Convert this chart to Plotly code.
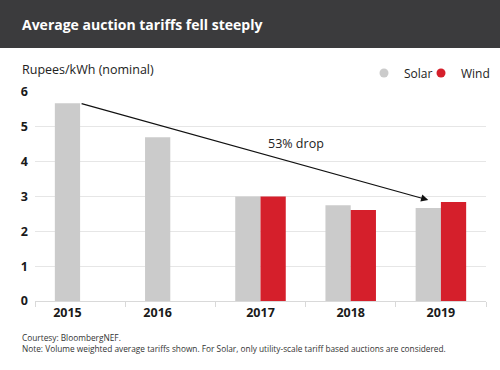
import plotly.graph_objects as go

years = [2015, 2016, 2017, 2018, 2019]
solar = [5.68, 4.70, 3.00, 2.75, 2.67]
wind = [None, None, 3.00, 2.61, 2.84]
y_ticks = [0, 1, 2, 3, 4, 5, 6]

SOLAR_C = "#cbcbcb"
WIND_C = "#d51f2b"
FONT = "Open Sans"
BW = 0.28

# label under solar bar alone when there's no wind value
label_pos = [y - BW / 2 if w is None else y for y, w in zip(years, wind)]
bounds = [y - 0.5 for y in years] + [years[-1] + 0.5]

fig = go.Figure()
fig.add_trace(go.Bar(x=years, y=solar, width=BW, offset=-BW, marker_color=SOLAR_C,
                     marker_line_width=0, name="Solar", showlegend=False))
fig.add_trace(go.Bar(x=years, y=wind, width=BW, offset=0, marker_color=WIND_C,
                     marker_line_width=0, name="Wind", showlegend=False))
# legend entries with circle symbols
fig.add_trace(go.Scatter(x=[None], y=[None], mode="markers", name="Solar", legend="legend",
                         marker=dict(color=SOLAR_C, size=9, symbol="circle")))
fig.add_trace(go.Scatter(x=[None], y=[None], mode="markers", name="Wind", legend="legend2",
                         marker=dict(color=WIND_C, size=9, symbol="circle")))
# invisible trace for tick marks axis
fig.add_trace(go.Scatter(x=[years[0]], y=[0], xaxis="x2", mode="markers",
                         marker=dict(opacity=0), showlegend=False, hoverinfo="skip"))

xr = [years[0] - 0.5, years[-1] + 0.5]
leg_common = dict(orientation="h", y=1 + (92 - 73) / 209, yanchor="middle", xanchor="left",
                  font=dict(size=12, color="#222222"), itemwidth=30,
                  bgcolor="rgba(0,0,0,0)")
fig.update_layout(
    width=500, height=370,
    margin=dict(l=35, r=14, t=92, b=69, autoexpand=False),
    paper_bgcolor="white", plot_bgcolor="white",
    font=dict(family=FONT, color="#222222"),
    barmode="overlay",
    xaxis=dict(range=xr, tickvals=label_pos, ticktext=[str(y) for y in years],
               ticks="", showgrid=False, zeroline=False,
               showline=True, linecolor="#d9d9d9", linewidth=1,
               tickfont=dict(size=12.5, color="#1a1a1a", family=FONT, weight="bold")),
    xaxis2=dict(range=xr, overlaying="x", side="bottom", tickvals=bounds,
                ticks="outside", ticklen=5, tickcolor="#d9d9d9", tickwidth=1,
                showticklabels=False, showgrid=False, zeroline=False),
    yaxis=dict(range=[0, 6], tickvals=y_ticks, showgrid=True, gridcolor="#e6e6e6",
               gridwidth=1, zeroline=False, ticks="", ticklabelstandoff=6,
               tickfont=dict(size=12.5, color="#1a1a1a", family=FONT, weight="bold")),
    legend=dict(x=(364 - 35) / 451, **leg_common),
    legend2=dict(x=(421 - 35) / 451, **leg_common),
    shapes=[dict(type="rect", xref="paper", yref="paper", x0=-0.1, x1=1.05,
                 y0=1 + (92 - 48) / 209, y1=1 + 92 / 209 + 0.01,
                 fillcolor="#3b3b3d", line_width=0, layer="below")],
)

fig.add_annotation(text="<b>Average auction tariffs fell steeply</b>", xref="paper", yref="paper",
                   x=-15 / 451, y=1 + (92 - 24) / 209, xanchor="left", yanchor="middle",
                   showarrow=False, font=dict(size=14, color="white", family=FONT))
fig.add_annotation(text="Rupees/kWh (nominal)", xref="paper", yref="paper",
                   x=-15 / 451, y=1 + (92 - 69) / 209, xanchor="left", yanchor="middle",
                   showarrow=False, font=dict(size=12.5, color="#222222", family=FONT))
fig.add_annotation(text="Courtesy: BloombergNEF.<br>Note: Volume weighted average tariffs shown. For Solar, only utility-scale tariff based auctions are considered.",
                   xref="paper", yref="paper", x=-15 / 451, y=-(330 - 301) / 209,
                   xanchor="left", yanchor="top", align="left", showarrow=False,
                   font=dict(size=8.3, color="#333333", family=FONT))
# trend arrow
fig.add_annotation(x=2018.86, y=2.90, ax=years[0], ay=solar[0], xref="x", yref="y",
                   axref="x", ayref="y", showarrow=True, arrowhead=2, arrowsize=1.2,
                   arrowwidth=1.2, arrowcolor="#111111", text="")
fig.add_annotation(text="53% drop", x=2017.39, y=4.51, xref="x", yref="y", showarrow=False,
                   font=dict(size=12.5, color="#222222", family=FONT))

fig.write_html("out.html", config={"displayModeBar": False},
               post_script="document.body.style.margin='0';")
